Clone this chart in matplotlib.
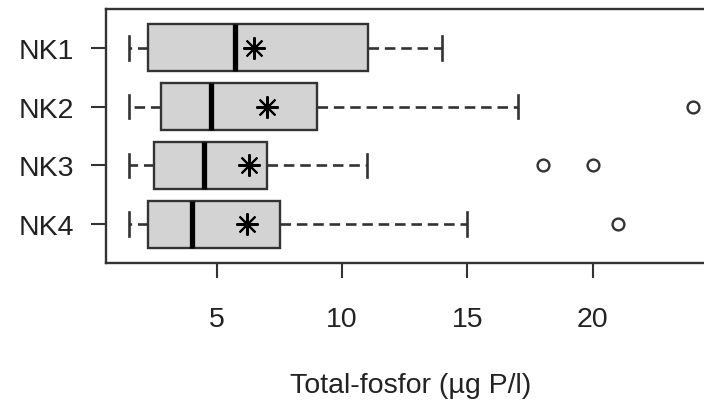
import matplotlib
matplotlib.use("Agg")
import matplotlib.pyplot as plt

plt.rcParams["font.family"] = ["Liberation Sans", "DejaVu Sans"]

# total phosphorus summary per station (µg P/l)
stations = ["NK1", "NK2", "NK3", "NK4"]
whisker_low = [1.5, 1.5, 1.5, 1.5]
quart_low = [2.27, 2.76, 2.5, 2.27]
medians = [5.75, 4.77, 4.5, 4.0]
quart_high = [11.05, 9.0, 7.0, 7.52]
whisker_high = [14.0, 17.0, 11.0, 15.0]
means = [6.49, 6.99, 6.3, 6.19]
outliers = [[], [24.0], [18.0, 20.0], [21.0]]

stats = []
for i, name in enumerate(stations):
    stats.append(dict(label=name, whislo=whisker_low[i], q1=quart_low[i],
                      med=medians[i], q3=quart_high[i],
                      whishi=whisker_high[i], mean=means[i],
                      fliers=outliers[i]))

edge = "#333333"

fig = plt.figure(figsize=(7.04, 4.02), dpi=100)
ax = fig.add_axes([0.1511, 0.3433, 0.8654, 0.6318])

ax.bxp(stats, positions=[1, 2, 3, 4], vert=False, widths=0.8,
       capwidths=0.4, patch_artist=True, showmeans=True,
       boxprops=dict(facecolor="#d3d3d3", edgecolor=edge, linewidth=1.7),
       medianprops=dict(color="black", linewidth=3.8, solid_capstyle="butt"),
       whiskerprops=dict(color=edge, linewidth=1.9, linestyle=(0, (4, 2.2))),
       capprops=dict(color=edge, linewidth=1.9),
       flierprops=dict(marker="o", markersize=8.5, markerfacecolor="none",
                       markeredgecolor=edge, markeredgewidth=1.7),
       meanprops=dict(marker=(8, 2, 0), markersize=16, markeredgecolor="black",
                      markerfacecolor="black", markeredgewidth=1.5))

ax.set_xlim(0.6, 24.9)
ax.set_ylim(4.66, 0.34)
ax.set_xticks([5, 10, 15, 20])
ax.set_yticks([1, 2, 3, 4])
ax.set_yticklabels(stations)

for sp in ax.spines.values():
    sp.set_color(edge)
    sp.set_linewidth(1.7)

ax.tick_params(axis="both", length=11, width=1.5, color=edge,
               labelsize=20.5, labelcolor="#222222")
ax.tick_params(axis="x", pad=20)
ax.tick_params(axis="y", pad=12)

ax.set_xlabel("Total-fosfor (µg P/l)", fontsize=20.5, color="#222222",
              labelpad=29)

fig.savefig("out.png", dpi=100)
